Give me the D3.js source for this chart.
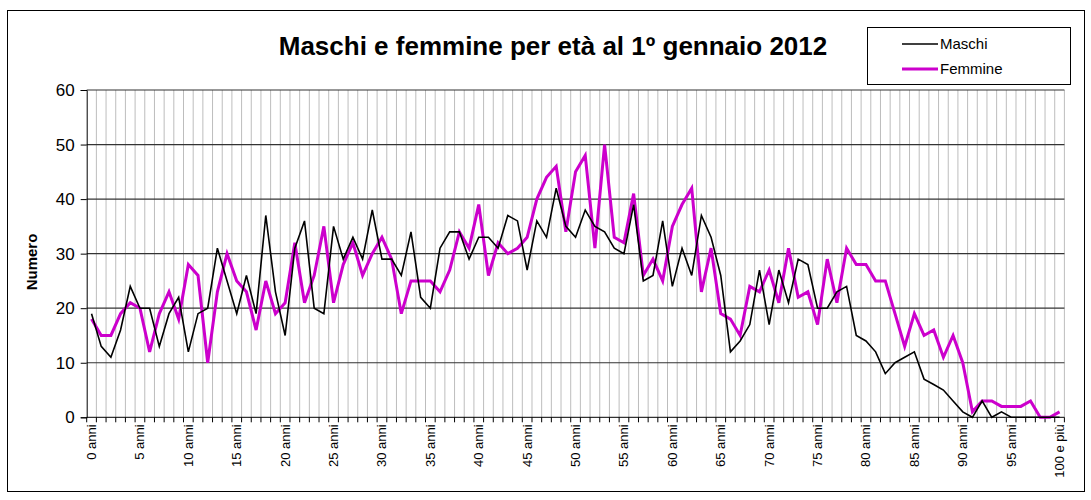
<!DOCTYPE html>
<html><head><meta charset="utf-8">
<script src="https://cdn.jsdelivr.net/npm/d3@7"></script>
<style>body{margin:0;background:#fff;} svg{display:block;font-family:"Liberation Sans",Arial,sans-serif;}</style>
</head><body><svg id="c" width="1091" height="500"></svg>
<script>
const categories = d3.range(0, 100).map(a => a + " anni").concat(["100 e più"]);
const maschi = [19,13,11,16,24,20,20,13,19,22,12,19,20,31,25,19,26,19,37,23,
  15,31,36,20,19,35,29,33,29,38,29,29,26,34,22,20,31,34,34,29,
  33,33,31,37,36,27,36,33,42,35,33,38,35,34,31,30,39,25,26,36,
  24,31,26,37,33,26,12,14,17,27,17,27,21,29,28,20,20,23,24,15,
  14,12,8,10,11,12,7,6,5,3,1,0,3,0,1,0,0,0,0,0,0];
const femmine = [18,15,15,19,21,20,12,19,23,18,28,26,10,23,30,25,23,16,25,19,
  21,32,21,26,35,21,28,32,26,30,33,29,19,25,25,25,23,27,34,31,
  39,26,32,30,31,33,40,44,46,34,45,48,31,50,33,32,41,26,29,25,
  35,39,42,23,31,19,18,15,24,23,27,21,31,22,23,17,29,21,31,28,
  28,25,25,19,13,19,15,16,11,15,10,1,3,3,2,2,2,3,0,0,1];
const yTicks = [0, 10, 20, 30, 40, 50, 60];
const seriesNames = ["Maschi", "Femmine"];
const seriesColors = ["#000000", "#CC00CC"];
const titleText = "Maschi e femmine per età al 1º gennaio 2012";
const yTitle = "Numero";

const svg = d3.select("#c");
const L = 86.7, R = 1064.4, T = 90, B = 417.3;

// outer frame
svg.append("rect").attr("x", 7.5).attr("y", 10.5).attr("width", 1077).attr("height", 481)
  .attr("fill", "#fff").attr("stroke", "#000").attr("stroke-width", 1);

const x = d3.scaleBand().domain(categories).range([L, R]).padding(0);
const y = d3.scaleLinear().domain([0, 60]).range([B, T]);
const bw = x.bandwidth();
const cx = c => x(c) + bw / 2;

// vertical minor gridlines
svg.append("g").selectAll("line").data(categories.slice(1).concat([null])).join("line")
  .attr("x1", d => d === null ? R : x(d)).attr("x2", d => d === null ? R : x(d))
  .attr("y1", T).attr("y2", B)
  .attr("stroke", "#bdbdbd").attr("stroke-width", 1);

// horizontal gridlines
svg.append("g").selectAll("line").data(yTicks.filter(v => v > 0)).join("line")
  .attr("x1", L).attr("x2", R).attr("y1", d => y(d)).attr("y2", d => y(d))
  .attr("stroke", "#333").attr("stroke-width", 1.2);

// y axis
const yAxis = d3.axisLeft(y).tickValues(yTicks).tickSize(6).tickPadding(6);
const gy = svg.append("g").attr("transform", `translate(${L},0)`).call(yAxis);
gy.select(".domain").attr("stroke", "#000");
gy.selectAll(".tick line").attr("stroke", "#000");
gy.selectAll("text").attr("font-size", 17).attr("fill", "#000").attr("font-family", "Liberation Sans, Arial, sans-serif");

// x axis (ticks at boundaries)
const gx = svg.append("g");
gx.append("line").attr("x1", L).attr("x2", R).attr("y1", B).attr("y2", B).attr("stroke", "#000");
gx.selectAll("line.tk").data(categories.concat([null])).join("line").attr("class", "tk")
  .attr("x1", d => d === null ? R : x(d)).attr("x2", d => d === null ? R : x(d))
  .attr("y1", B).attr("y2", B + 5).attr("stroke", "#000");
gx.selectAll("text").data(categories.filter((c, i) => i % 5 === 0)).join("text")
  .attr("transform", d => `translate(${cx(d) + 4.5},${B + 7}) rotate(-90)`)
  .attr("text-anchor", "end").attr("font-size", 13).text(d => d);

// lines
const series = [maschi, femmine];
const widths = [1.6, 3];
const line = d3.line().x((d, i) => cx(categories[i])).y(d => y(d));
[1, 0].forEach(k => {
  svg.append("path").datum(series[k]).attr("d", line).attr("fill", "none")
    .attr("stroke", seriesColors[k]).attr("stroke-width", widths[k]).attr("stroke-linejoin", "miter");
});

// title
svg.append("text").attr("x", 553).attr("y", 55).attr("text-anchor", "middle")
  .attr("font-size", 26).attr("font-weight", "bold").text(titleText);

// y title
svg.append("text").attr("transform", "translate(37,262) rotate(-90)").attr("text-anchor", "middle")
  .attr("font-size", 15).attr("font-weight", "bold").text(yTitle);

// legend
const lg = svg.append("g");
lg.append("rect").attr("x", 867.5).attr("y", 27.5).attr("width", 203).attr("height", 57)
  .attr("fill", "#fff").attr("stroke", "#000").attr("stroke-width", 1);
seriesNames.forEach((n, k) => {
  const yy = 44 + k * 25;
  lg.append("line").attr("x1", 902).attr("x2", 938).attr("y1", yy).attr("y2", yy)
    .attr("stroke", seriesColors[k]).attr("stroke-width", widths[k]);
  lg.append("text").attr("x", 940).attr("y", yy + 5).attr("font-size", 15).text(n);
});
</script></body></html>
